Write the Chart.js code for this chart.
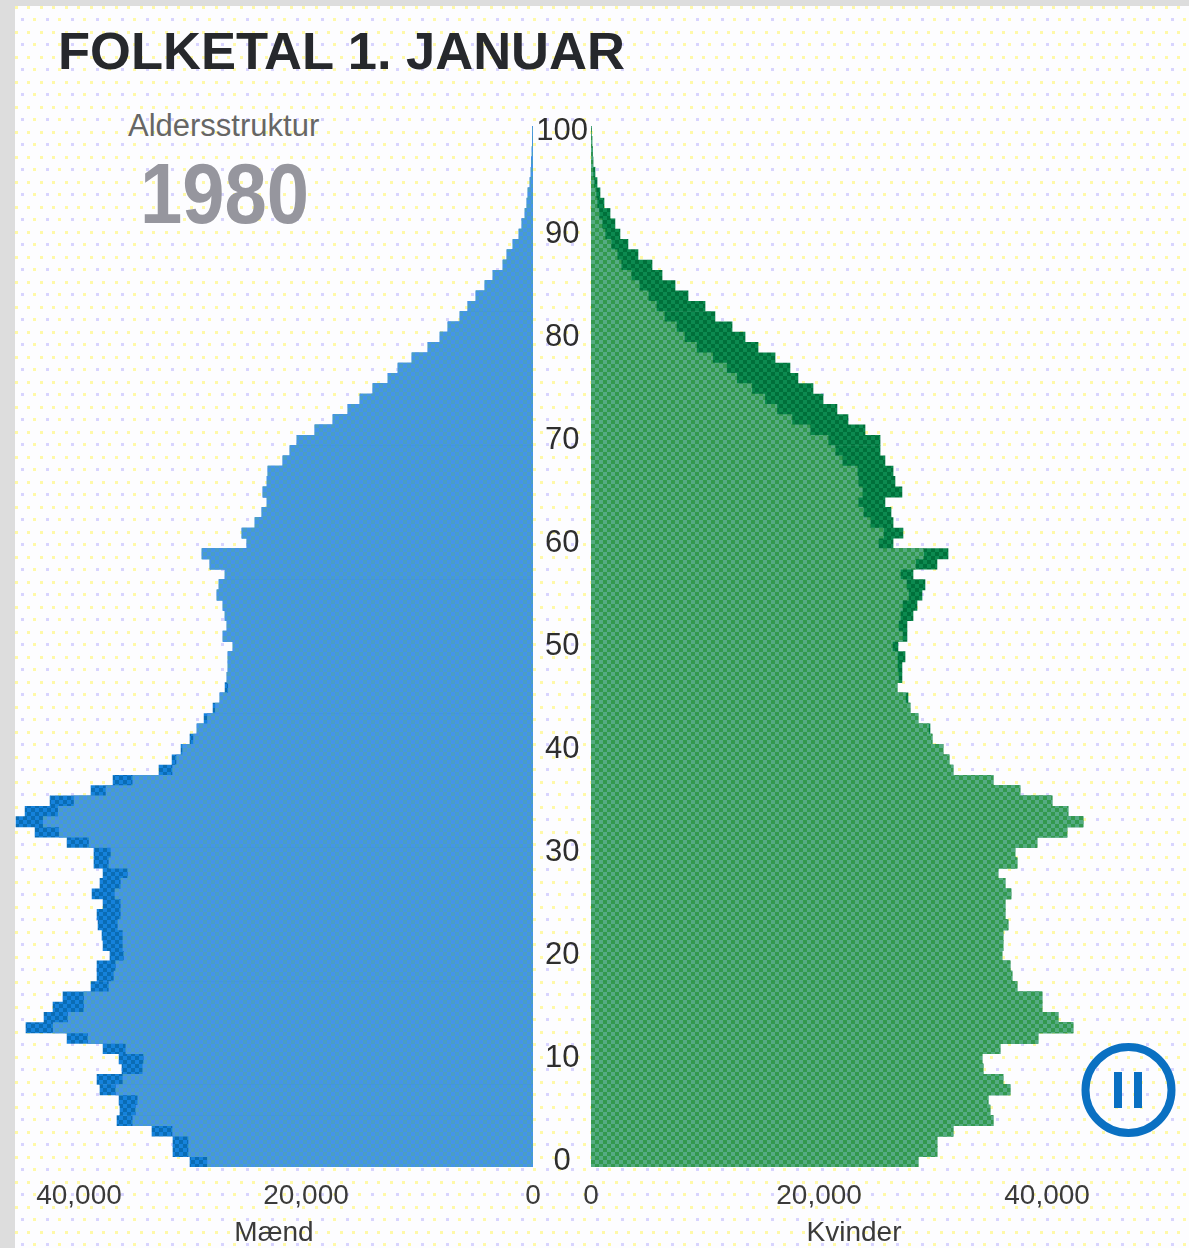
<!DOCTYPE html>
<html>
<head>
<meta charset="utf-8">
<script src="https://cdn.jsdelivr.net/npm/chart.js@4"></script>
<style>
	html, body { margin: 0; padding: 0; background: #dddddd; overflow: hidden; }
	#page {
		position: absolute; left: 15px; top: 6px; width: 1174px; height: 1242px;
		background-color: #fdfdff;
		background-image: url("data:image/svg+xml,%3Csvg xmlns='http://www.w3.org/2000/svg' width='25' height='25'%3E%3Crect x='0' y='0' width='3' height='3' fill='%23fff9a8'/%3E%3Crect x='12' y='0' width='3' height='3' fill='%23fff9a8'/%3E%3Crect x='6' y='12' width='3' height='3' fill='%23d8d4ff'/%3E%3Crect x='18' y='12' width='3' height='3' fill='%23fff9a8'/%3E%3C/svg%3E");
	}
	canvas { position: absolute; }
	.txt { position: absolute; font-family: "Liberation Sans", Arial, sans-serif; white-space: nowrap; }
	#title { left: 58px; top: 20px; font-size: 52.5px; font-weight: bold; color: #26282c; }
	#sub { left: 128px; top: 108px; font-size: 31px; color: #666666; }
	#year { left: 140px; top: 145px; font-size: 76px; font-weight: bold; color: #96969e; transform: scaleY(1.12); transform-origin: top; }
	#pause { position: absolute; left: 1078px; top: 1040px; }
</style>
</head>
<body>
<div id="page"></div>
<div class="txt" id="title">FOLKETAL 1. JANUAR</div>
<div class="txt" id="sub">Aldersstruktur</div>
<div class="txt" id="year">1980</div>
<div id="wrapLeft" style="position:absolute;left:15px;top:100px;width:530px;height:1148px"><canvas id="left"></canvas></div>
<div id="wrapRight" style="position:absolute;left:535px;top:100px;width:654px;height:1148px"><canvas id="right"></canvas></div>
<svg id="pause" width="100" height="100">
	<circle cx="50.5" cy="50" r="43" fill="none" stroke="#0a70c2" stroke-width="8"/>
	<rect x="36" y="32" width="8" height="36" fill="#0a70c2"/>
	<rect x="56" y="32" width="8" height="36" fill="#0a70c2"/>
</svg>
<script>
const ages = [
	0,1,2,3,4,5,6,7,8,9,10,11,12,13,14,15,16,17,18,19,
	20,21,22,23,24,25,26,27,28,29,30,31,32,33,34,35,36,37,38,39,
	40,41,42,43,44,45,46,47,48,49,50,51,52,53,54,55,56,57,58,59,
	60,61,62,63,64,65,66,67,68,69,70,71,72,73,74,75,76,77,78,79,
	80,81,82,83,84,85,86,87,88,89,90,91,92,93,94,95,96,97,98,99,100,
];
const xTicks = [0, 20000, 40000];
const maend = [
	30220,31720,31720,33570,36650,36390,36470,38150,38410,36210,
	36470,37880,41050,44670,43080,42290,41410,38940,38410,38410,
	37270,37880,37970,38320,38410,37880,38850,38150,37880,38680,
	38680,41050,43870,45550,44750,42550,38940,37000,32950,31800,
	31010,30220,29600,28980,28190,27580,27130,26960,26870,26870,
	26430,27310,26960,27130,27310,27840,27660,27130,28460,29160,
	25200,25640,24490,23880,23430,23790,23430,23350,22030,21410,
	20790,19210,17620,16300,15240,14100,12770,11890,10660,9250,
	8190,7490,6430,5730,5020,4230,3520,2640,2290,1760,
	1230,970,700,530,440,260,170,130,80,50,30,
];
const kvinder = [
	28680,30340,30340,31750,35260,34990,34820,36750,36130,34380,
	34290,35870,39200,42270,40960,39550,39550,37360,36920,36750,
	36040,36130,36130,36570,36310,36310,36830,36310,35690,37360,
	37180,39110,41740,43150,41830,40430,37620,35260,31750,31400,
	30870,29910,29730,28680,27980,27800,26840,27270,27270,27540,
	26920,27710,27710,28240,28590,29030,29290,28240,30340,31310,
	26490,27360,26490,26310,25780,27270,26660,26490,25780,25350,
	25350,24030,22540,21570,20350,19470,18150,17450,16140,14650,
	13510,12370,10870,10000,8510,7370,6230,5350,4120,3240,
	2540,2100,1670,1140,790,530,350,180,130,90,40,
];
const faelles = maend.map((m, i) => Math.min(m, kvinder[i]));

// checkered fill, the picture is a dithered gif
function dither(ctx, a, b) {
	let c = document.createElement('canvas');
	c.width = 8;
	c.height = 8;
	let g = c.getContext('2d');
	g.fillStyle = a;
	g.fillRect(0, 0, 8, 8);
	g.fillStyle = b;
	g.fillRect(0, 0, 4, 4);
	g.fillRect(4, 4, 4, 4);
	return ctx.createPattern(c, 'repeat');
}

function options(reverse, max, padding, title, showAges) {
	return {
		indexAxis: 'y',
		responsive: true,
		maintainAspectRatio: false,
		animation: false,
		layout: { padding: padding },
		plugins: { legend: { display: false }, tooltip: { enabled: false } },
		scales: {
			x: {
				reverse: reverse,
				min: 0,
				max: max,
				grid: { display: false },
				border: { display: false },
				afterBuildTicks: (scale) => { scale.ticks = xTicks.map((v) => ({ value: v })); },
				afterFit: (scale) => { scale.height = 81; },
				title: {
					display: true,
					text: title,
					color: '#3a3a3a',
					font: { family: 'Liberation Sans', size: 28 },
					padding: { top: 0, bottom: -2 },
				},
				ticks: {
					maxRotation: 0,
					color: '#3a3a3a',
					padding: 4,
					font: { family: 'Liberation Sans', size: 28 },
					callback: (v) => v.toLocaleString('en-US'),
				},
			},
			y: {
				display: showAges,
				reverse: true,
				grid: { display: false },
				border: { display: false },
				afterFit: (scale) => { scale.width = showAges ? 56 : 0; },
				ticks: {
					autoSkip: false,
					crossAlign: 'center',
					padding: -5,
					color: '#2e2e2e',
					font: { family: 'Liberation Sans', size: 31 },
					callback: function(v) {
						let age = this.getLabelForValue(v);
						return age % 10 == 0 ? age : '';
					},
				},
			},
		},
	};
}

function bars(top, full, light, dark) {
	return {
		type: 'bar',
		data: {
			labels: ages,
			datasets: [{
				data: top,
				backgroundColor: light,
				grouped: false,
				barPercentage: 1,
				categoryPercentage: 1,
			}, {
				data: full,
				backgroundColor: dark,
				grouped: false,
				barPercentage: 1,
				categoryPercentage: 1,
			}],
		},
		options: null,
	};
}

let ctxLeft = document.getElementById('left').getContext('2d');
let ctxRight = document.getElementById('right').getContext('2d');

let cfgLeft = bars(faelles, maend, dither(ctxLeft, '#4494ea', '#4a9ec4'), dither(ctxLeft, '#0a6cb4', '#1582dc'));
cfgLeft.options = options(true, 45640, { top: 26, right: 12 }, 'Mænd', false);
new Chart(ctxLeft, cfgLeft);

let cfgRight = bars(faelles, kvinder, dither(ctxRight, '#33994e', '#55ab84'), dither(ctxRight, '#00703a', '#0c8a50'));
cfgRight.options = options(false, 46130, { top: 26, right: 72 }, 'Kvinder', true);
new Chart(ctxRight, cfgRight);
</script>
</body>
</html>
